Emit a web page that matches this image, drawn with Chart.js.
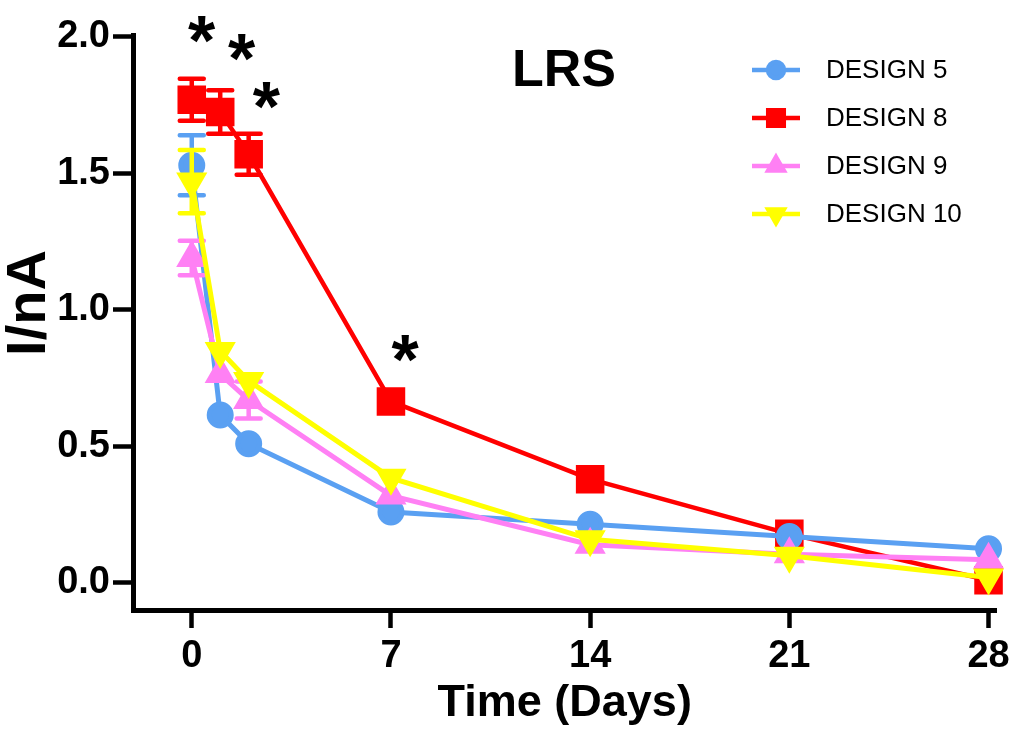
<!DOCTYPE html>
<html>
<head>
<meta charset="utf-8">
<script src="https://cdn.jsdelivr.net/npm/chart.js@4"></script>
<style>
  html, body { margin: 0; padding: 0; background: #fff; }
  #wrap { width: 1018px; height: 731px; }
</style>
</head>
<body>
<div id="wrap"><canvas id="grafico" width="1018" height="731"></canvas></div>
<script>
// dados
const days = [0, 1, 2, 7, 14, 21, 28];
const design5 = [1.53, 0.615, 0.51, 0.26, 0.215, 0.17, 0.125];
const design5Err = [0.11, 0, 0, 0, 0, 0, 0];
const design8 = [1.77, 1.725, 1.57, 0.665, 0.38, 0.18, 0.01];
const design8Err = [0.077, 0.08, 0.075, 0, 0, 0, 0];
const design9 = [1.19, 0.765, 0.67, 0.32, 0.14, 0.105, 0.085];
const design9Err = [0.063, 0, 0.068, 0, 0, 0, 0];
const design10 = [1.47, 0.85, 0.74, 0.385, 0.16, 0.10, 0.02];
const design10Err = [0.116, 0, 0, 0, 0, 0, 0];

const xTicks = [0, 7, 14, 21, 28];
const yTicks = [0, 0.5, 1.0, 1.5, 2.0];

// asteriscos de significância
const sigDays = [0.35, 1.75, 2.62, 7.5];
const sigValues = [2.02, 1.955, 1.78, 0.855];

const FONT = "'Liberation Sans', Arial, sans-serif";

function pts(vals) {
  return days.map((d, i) => ({ x: d, y: vals[i] }));
}

// barras de erro, desenhadas antes de cada série
const errorBars = {
  id: 'errorBars',
  beforeDatasetDraw(chart, args) {
    const ds = chart.data.datasets[args.index];
    if (!ds.errors) return;
    const { ctx, scales: { x, y } } = chart;
    ctx.save();
    ctx.strokeStyle = ds.borderColor;
    ctx.lineWidth = 4.5;
    ctx.lineCap = 'round';
    ds.data.forEach((p, i) => {
      const e = ds.errors[i];
      if (!e) return;
      const px = x.getPixelForValue(p.x);
      const top = y.getPixelForValue(p.y + e);
      const bot = y.getPixelForValue(p.y - e);
      ctx.beginPath();
      ctx.moveTo(px, top); ctx.lineTo(px, bot);
      ctx.moveTo(px - 12, top); ctx.lineTo(px + 12, top);
      ctx.moveTo(px - 12, bot); ctx.lineTo(px + 12, bot);
      ctx.stroke();
    });
    ctx.restore();
  }
};

// título, título do eixo y, legenda e asteriscos
const extras = {
  id: 'extras',
  afterDraw(chart) {
    const { ctx, scales: { x, y } } = chart;
    ctx.save();
    ctx.fillStyle = '#000';
    ctx.textAlign = 'center';
    ctx.textBaseline = 'middle';
    ctx.font = 'bold 52px ' + FONT;
    ctx.fillText('LRS', 564, 72);

    // eixo y
    ctx.save();
    ctx.translate(30, 303);
    ctx.rotate(-Math.PI / 2);
    ctx.font = 'bold 56px ' + FONT;
    ctx.fillText('I/nA', 0, 0);
    ctx.restore();

    ctx.font = 'bold 70px ' + FONT;
    ctx.textBaseline = 'alphabetic';
    sigDays.forEach((d, i) => {
      ctx.fillText('*', x.getPixelForValue(d), y.getPixelForValue(sigValues[i]) + 34);
    });

    // legenda
    const legendSizes = [8, 11, 9, 9];
    chart.data.datasets.forEach((ds, i) => {
      const ly = 70 + i * 48;
      ctx.strokeStyle = ds.borderColor;
      ctx.lineWidth = 4.5;
      ctx.beginPath();
      ctx.moveTo(752, ly); ctx.lineTo(800, ly);
      ctx.stroke();
      ctx.fillStyle = ds.borderColor;
      Chart.helpers.drawPoint(ctx, {
        pointStyle: ds.pointStyle,
        rotation: ds.pointRotation || 0,
        radius: legendSizes[i],
        borderWidth: 1
      }, 776, ly);
      ctx.fillStyle = '#000';
      ctx.textAlign = 'left';
      ctx.textBaseline = 'middle';
      ctx.font = '26px ' + FONT;
      ctx.fillText(ds.label, 826, ly + 1);
    });
    ctx.restore();
  }
};

const ctx = document.getElementById('grafico').getContext('2d');
const grafico = new Chart(ctx, {
  type: 'line',
  data: {
    datasets: [
      {
        label: 'DESIGN 5', data: pts(design5), errors: design5Err,
        borderColor: '#5aa0f2', backgroundColor: '#5aa0f2',
        pointStyle: 'circle', pointRadius: 11, borderWidth: 5, order: 2
      },
      {
        label: 'DESIGN 8', data: pts(design8), errors: design8Err,
        borderColor: '#ff0000', backgroundColor: '#ff0000',
        pointStyle: 'rect', pointRadius: 17, borderWidth: 4.5, order: 3
      },
      {
        label: 'DESIGN 9', data: pts(design9), errors: design9Err,
        borderColor: '#ff80f4', backgroundColor: '#ff80f4',
        pointStyle: 'triangle', pointRadius: 13, borderWidth: 5, order: 1
      },
      {
        label: 'DESIGN 10', data: pts(design10), errors: design10Err,
        borderColor: '#ffff00', backgroundColor: '#ffff00',
        pointStyle: 'triangle', pointRotation: 180, pointRadius: 13, borderWidth: 5, order: 0
      }
    ]
  },
  options: {
    responsive: false,
    animation: false,
    clip: false,
    layout: { padding: { top: 35, right: 18, left: 0, bottom: 0 } },
    elements: {
      line: { tension: 0, fill: false },
      point: { borderWidth: 1 }
    },
    plugins: {
      legend: { display: false },
      tooltip: { enabled: false }
    },
    scales: {
      x: {
        type: 'linear',
        min: -2.065, max: 28.28,
        afterBuildTicks: s => { s.ticks = xTicks.map(v => ({ value: v })); },
        afterFit: s => { s.height = 121; },
        grid: { display: true, drawOnChartArea: false, color: '#000', tickLength: 18, tickWidth: 4.5 },
        border: { display: true, color: '#000', width: 5 },
        ticks: { color: '#000', font: { family: FONT, size: 38, weight: 'bold' }, padding: 6, maxRotation: 0 },
        title: {
          display: true, text: 'Time (Days)', color: '#000',
          font: { family: FONT, size: 45, weight: 'bold' }, padding: { top: 0, bottom: 0 }
        }
      },
      y: {
        min: -0.099, max: 2.007,
        afterBuildTicks: s => { s.ticks = yTicks.map(v => ({ value: v })); },
        afterFit: s => { s.width = 133; },
        grid: { display: true, drawOnChartArea: false, color: '#000', tickLength: 20, tickWidth: 4.5 },
        border: { display: true, color: '#000', width: 5 },
        ticks: {
          color: '#000', font: { family: FONT, size: 38, weight: 'bold' }, padding: 3,
          callback: v => v.toFixed(1)
        },
        title: { display: false }
      }
    }
  },
  plugins: [errorBars, extras]
});
</script>
</body>
</html>
